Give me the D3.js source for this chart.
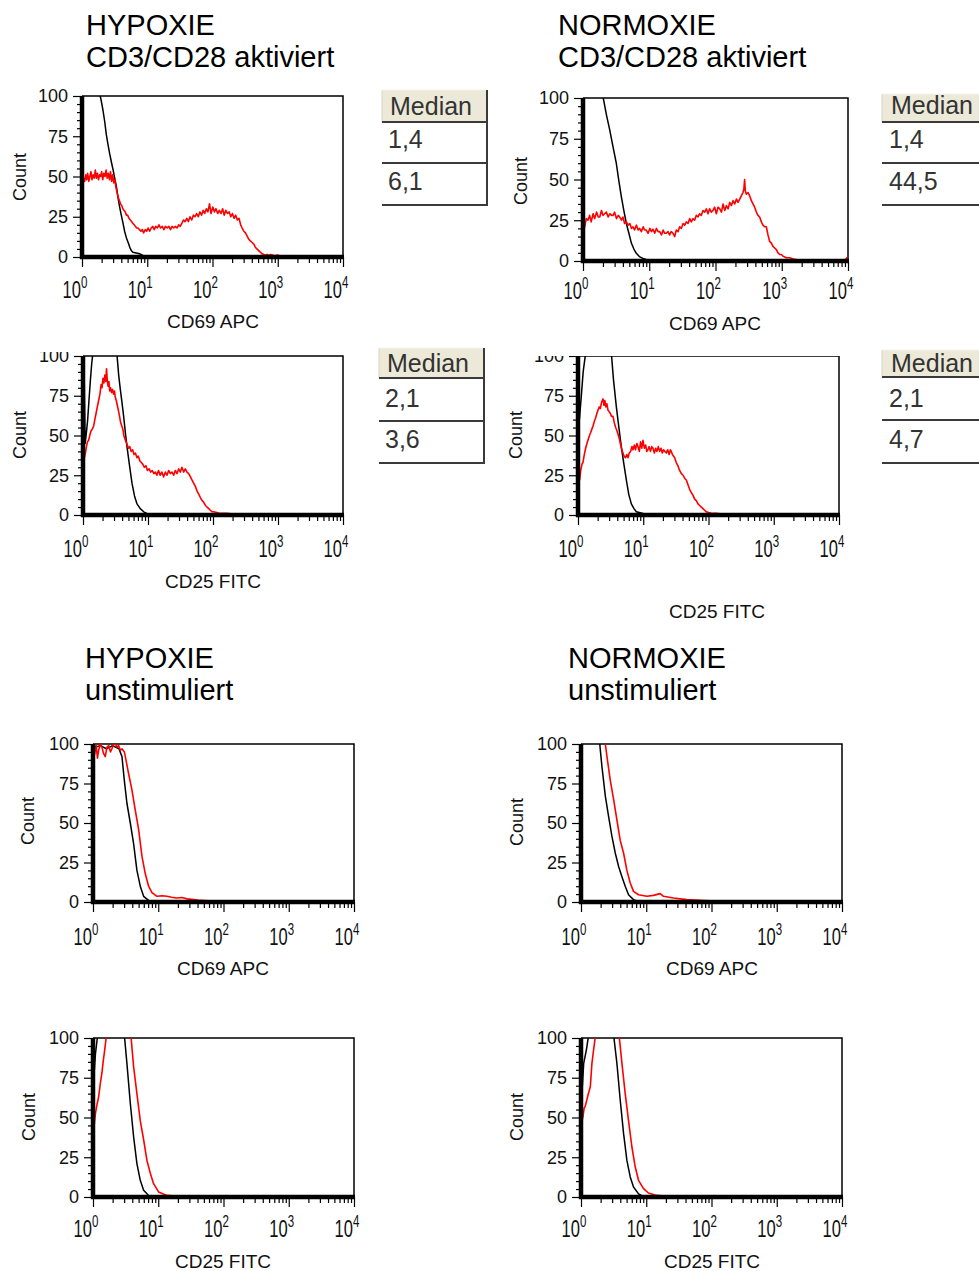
<!DOCTYPE html>
<html><head><meta charset="utf-8">
<script src="https://cdn.jsdelivr.net/npm/d3@7"></script>
<style>
html,body{margin:0;padding:0;background:#fff;}
svg{display:block;font-family:"Liberation Sans",Arial,sans-serif;}
</style></head><body>
<svg id="chart" width="979" height="1271"></svg>
<script>
// ---------------- DATA ----------------
const xTickValues = [1, 10, 100, 1000, 10000];
const xTickBase = "10";
const xTickExponents = ["0", "1", "2", "3", "4"];
const yTickValues = [0, 25, 50, 75, 100];
const yMinorTickValues = [5, 10, 15, 20, 30, 35, 40, 45, 55, 60, 65, 70, 80, 85, 90, 95];
const yAxisTitle = "Count";
const groupTitles = ["HYPOXIE", "NORMOXIE", "HYPOXIE", "NORMOXIE"];
const groupSubtitles = ["CD3/CD28 aktiviert", "CD3/CD28 aktiviert", "unstimuliert", "unstimuliert"];
const markerLabels = ["CD69 APC", "CD69 APC", "CD25 FITC", "CD25 FITC", "CD69 APC", "CD69 APC", "CD25 FITC", "CD25 FITC"];
const medianHeader = "Median";
const medianHypAktCD69 = ["1,4", "6,1"];
const medianNormAktCD69 = ["1,4", "44,5"];
const medianHypAktCD25 = ["2,1", "3,6"];
const medianNormAktCD25 = ["2,1", "4,7"];

// [fluorescence intensity, count]
const hypAktCD69Black = [[1,200],[1.6,140],[1.87,101],[1.95,98],[2.1,91],[2.23,84],[2.36,76],[2.5,70],[2.66,64],[2.82,59],[3,54],[3.17,49],[3.36,44],[3.56,37],[3.78,31],[4,26],[4.25,21],[4.5,16],[4.78,12],[5.1,9],[5.4,6],[5.7,4],[6,3],[6.8,2.5],[7.6,2],[8.6,1],[9.7,0.5],[11,0],[10000,0]];
const hypAktCD69Red = [[1,41],[1.03,44],[1.06,49],[1.1,47],[1.14,51],[1.18,48],[1.22,52],[1.27,47],[1.32,50],[1.37,53],[1.42,48],[1.48,51],[1.54,49],[1.6,54],[1.66,49],[1.72,52],[1.79,48],[1.86,51],[1.93,50],[2,53],[2.08,48],[2.16,52],[2.25,50],[2.34,54],[2.43,49],[2.53,52],[2.63,48],[2.73,53],[2.84,47],[2.95,51],[3.07,46],[3.19,48],[3.32,43],[3.45,40],[3.6,37],[3.75,35],[3.9,33],[4.06,32],[4.23,30],[4.4,29],[4.6,28],[4.8,26],[5,26],[5.25,24],[5.5,23],[5.75,22],[6,21],[6.3,20],[6.6,19],[6.9,18],[7.2,18],[7.6,17],[8,16],[8.4,17],[8.8,15],[9.3,17],[9.8,16],[10.3,18],[10.9,16],[11.5,18],[12.1,19],[12.8,17],[13.5,19],[14.3,18],[15.1,20],[16,18],[17,19],[18,17],[19,19],[20.2,18],[21.4,19],[22.7,17],[24,19],[25.5,18],[27,19],[28.6,18],[30.3,20],[32,19],[34,21],[36,23],[38,22],[40.3,24],[42.7,22],[45.2,25],[48,23],[51,26],[54,25],[57,27],[60.5,25],[64,28],[68,26],[72,29],[76,27],[80.5,30],[85,28],[90,33],[95,27],[101,31],[107,28],[113,30],[120,27],[127,29],[135,27],[143,30],[151,26],[160,29],[170,27],[180,28],[191,25],[202,27],[214,24],[227,26],[240,23],[255,24],[270,20],[285,18],[302,16],[320,15],[340,13],[360,11],[380,10],[405,9],[430,8],[455,6],[480,5],[510,4],[540,3],[575,2],[610,1.5],[650,1.2],[690,1.5],[730,1],[780,1.5],[830,1.2],[900,0.8],[1000,1.2],[1100,0.5],[1300,0.3],[1600,0.5],[2000,0.8],[2400,0.3],[3000,0]];

const normAktCD69Black = [[1,200],[1.8,120],[2,101],[2.25,90],[2.53,80.5],[2.84,70],[3.18,60],[3.48,49],[3.79,39.5],[4.13,31],[4.51,23],[4.93,17],[5.37,11],[5.84,7.5],[6.38,4.7],[7.2,2.5],[8.05,1.6],[9,1],[10.1,0.6],[12,0],[10000,0]];
const normAktCD69Red = [[1,19],[1.06,21],[1.12,26],[1.19,25],[1.26,28],[1.33,24],[1.42,29],[1.5,26],[1.6,30],[1.7,27],[1.79,27],[1.9,31],[2,28],[2.12,29],[2.25,30],[2.4,27],[2.55,29],[2.7,28],[2.84,28],[3,30],[3.2,26],[3.4,28],[3.58,27],[3.8,25],[4,27],[4.25,23],[4.51,24],[4.8,22],[5.1,23],[5.4,20],[5.69,21],[6,19],[6.4,22],[6.8,19],[7.17,20],[7.6,18],[8.1,21],[8.5,19],[9,19],[9.6,17],[10.2,20],[10.8,18],[11.4,19.5],[12.1,17],[12.8,20],[13.6,18],[14.4,18],[15.3,16],[16.2,19],[17.1,17],[18.1,17],[19.2,18],[20.3,16],[21.5,18],[22.8,17],[24.2,15],[25.6,19],[27.2,18],[28.8,21],[30.5,20],[32.4,23],[34.3,22],[36.3,24],[38.5,23],[40.8,26],[43.2,24],[45.7,26],[48.4,25],[51.3,28],[54.4,27],[57.7,29],[61.1,28],[64.8,31],[68.6,30],[72.7,32],[77,29],[81.6,32],[86.5,30],[91.6,31],[97,33],[103,29],[109,33],[116,32],[123,30],[130,35],[138,31],[146,34],[155,32],[164,36],[174,34],[184,37],[195,35],[207,38],[219,36],[232,38],[245,40],[260,42],[268,44],[275,50],[282,43],[292,41],[310,42],[328,40],[348,37],[368,35],[390,33],[414,30],[438,28],[464,27],[492,24],[521,22],[552,21],[585,21],[620,16],[657,12],[697,11],[738,9],[782,8],[829,7],[878,5],[930,4],[986,4],[1045,3],[1107,2.5],[1173,2],[1243,2],[1318,2],[1500,1.2],[1862,0.5],[2500,0.3],[5000,0.3],[9000,0.4],[9600,2],[10000,1]];

const hypAktCD25Black = [[1,150],[1.04,90],[1.08,45],[1.13,52],[1.18,60],[1.24,73],[1.3,85],[1.36,95],[1.43,103],[2,160],[3,140],[3.33,101],[3.54,88],[3.75,79],[4,70],[4.22,62],[4.48,52],[4.75,43],[5.2,31],[5.67,20],[6.2,12],[6.77,7],[7.6,4],[8.58,2],[9.6,1],[10.9,0.6],[13,0],[10000,0]];
const hypAktCD25Red = [[1,22],[1.02,28],[1.05,36],[1.09,39],[1.13,43],[1.17,46],[1.22,47],[1.27,50],[1.33,53],[1.39,54],[1.46,56],[1.52,60],[1.59,64],[1.66,68],[1.74,72],[1.82,76],[1.9,82],[1.96,80],[2.03,86],[2.1,83],[2.17,88],[2.24,84],[2.3,92],[2.36,85],[2.43,81],[2.5,84],[2.58,78],[2.66,80],[2.75,77],[2.85,79],[2.95,76],[3.05,78],[3.14,74],[3.25,72],[3.37,69],[3.5,66],[3.65,62],[3.8,58],[3.95,56],[4.1,54],[4.25,50],[4.4,48],[4.6,46],[4.8,44],[5,42],[5.25,43],[5.5,40],[5.8,41],[6.1,38],[6.4,39],[6.77,36],[7.1,37],[7.5,34],[7.9,33],[8.3,32],[8.8,30],[9.3,31],[9.8,28],[10.4,29],[11,27],[11.6,28],[12.3,26],[13,27],[13.7,25],[14.5,28],[15.4,25],[16.3,27],[17.4,24],[18.5,27],[19.6,25],[20.8,28],[22.1,26],[23.4,27],[24.8,25],[26.3,28],[27.9,26],[29.6,29],[31.4,27],[33.3,30],[35.4,27],[37.5,29],[39.8,27],[42.3,26],[45,24],[47.6,22],[50.4,20],[53.5,18],[57,15],[60.5,13],[64,11],[68,9],[72,8],[76.5,6],[81,5],[86,4],[91,3],[97,2],[102,2],[115,1.5],[130,1],[164,1],[200,0.6],[263,0.5],[400,0.4],[10000,0.4]];

const normAktCD25Black = [[1,150],[1.05,60],[1.12,74],[1.2,90],[1.31,102],[2,150],[3.24,102],[3.5,85],[3.87,68],[4.2,56],[4.61,43],[5.05,32],[5.51,22],[6,13],[6.57,7],[7.2,4],[7.84,2],[9.9,1],[12,0],[10000,0]];
const normAktCD25Red = [[1,18],[1.03,24],[1.06,22],[1.1,28],[1.15,32],[1.19,33],[1.25,38],[1.31,42],[1.37,45],[1.42,47],[1.5,50],[1.57,52],[1.63,54],[1.7,56],[1.78,59],[1.86,61],[1.95,64],[2.03,66],[2.12,68],[2.2,67],[2.3,71],[2.42,73],[2.5,69],[2.58,72],[2.67,68],[2.77,70],[2.88,66],[3,65],[3.12,64],[3.27,62],[3.44,62],[3.6,58],[3.78,55],[3.95,53],[4.1,51],[4.3,48],[4.5,44],[4.7,41],[4.89,39],[5.1,37],[5.35,36],[5.6,38],[5.84,36],[6.1,39],[6.4,40],[6.7,43],[6.96,41],[7.3,44],[7.6,41],[8,45],[8.31,43],[8.7,40],[9.1,46],[9.5,42],[9.9,47],[10.4,42],[10.9,44],[11.3,40],[11.8,41],[12.3,43],[12.9,40],[13.5,43],[14.1,42],[14.8,39],[15.5,42],[16.2,40],[17,43],[17.8,40],[18.7,42],[19.6,39],[20.5,41],[21.5,40],[22.6,39],[23.7,41],[24.9,38],[26.1,41],[26.9,40],[28,38],[29.2,37],[30.3,36],[32,33],[34,31],[36.1,28],[38.4,26],[40.8,25],[43.3,23],[45.7,22],[48.5,19],[51.5,16],[54.6,14],[57.8,12.5],[61.3,10],[65,9],[69,7],[73.2,6],[77.6,5],[82.3,4],[87.3,3],[92.6,2],[100,1.5],[115,1],[132,1],[160,0.6],[200,0.5],[237,0.4],[10000,0.4]];

const hypUnstCD69Black = [[1,100],[1.1,98],[1.3,99],[1.6,97],[2,99],[2.5,97],[2.78,92],[3.02,77],[3.31,62.5],[3.73,50],[4.19,37],[4.71,20],[5.3,10],[5.97,3.6],[7.11,1],[8.49,0],[10000,0]];
const hypUnstCD69Red = [[1,96],[1.05,93],[1.12,99],[1.17,91],[1.22,96],[1.3,100],[1.37,98],[1.45,94],[1.54,92],[1.64,98],[1.74,99],[1.85,95],[1.95,97],[2.07,100],[2.2,100],[2.33,98],[2.47,99],[2.62,96],[2.78,97],[3.02,95],[3.13,92],[3.52,81],[3.95,71],[4.45,58],[5,46],[5.62,29],[6.32,18],[7.11,10],[8,6],[9.55,3.6],[11.5,4],[13.6,3.6],[16,3],[19.3,2.5],[23,2.8],[27.5,2],[35,1.5],[44,1],[60,0.8],[79,0.6],[110,0.5],[142,0.3],[180,0]];

const normUnstCD69Black = [[1,200],[1.93,101],[1.98,96],[2.09,86],[2.36,67],[2.65,54],[2.98,41.5],[3.35,31],[3.77,22.5],[4.24,16],[4.76,10],[5.35,4.6],[6.38,1.5],[8.07,0],[10000,0]];
const normUnstCD69Red = [[1,200],[2.3,101],[2.36,100],[2.5,92],[2.81,77],[3.16,65],[3.55,52],[3.99,39],[4.49,31],[5.05,20],[5.68,12],[6.38,6.7],[7.62,4.6],[10.2,3.6],[12.9,4.2],[16.3,5.3],[18.4,3.6],[26.1,2.5],[41.7,1.5],[66.7,1],[107,0.6],[135,0]];

const hypUnstCD25Black = [[1,150],[1.05,80],[1.09,90],[1.18,102],[2,150],[3.02,102],[3.31,84],[3.73,59],[4.19,38],[4.71,21],[5.3,10.5],[5.97,4.2],[7.11,1],[8.49,0],[10000,0]];
const hypUnstCD25Red = [[1,35],[1.02,42],[1.09,52.6],[1.15,58],[1.22,63],[1.3,72],[1.37,78],[1.43,85],[1.49,90.5],[1.6,101],[2.5,150],[3.82,101],[4.19,82],[4.71,65],[5.3,48],[5.97,36],[6.71,23],[7.55,15],[8.49,8.4],[10.1,3.2],[13.6,1],[19.3,0.4],[44,0.3],[10000,0.3]];

const normUnstCD25Black = [[1,150],[1.05,70],[1.1,84],[1.21,92.6],[1.31,102],[2,150],[3.16,102],[3.55,84],[3.99,61],[4.49,40],[5.05,23],[5.68,12.6],[6.38,6.3],[7.62,2],[9.08,0.4],[10.8,0],[10000,0]];
const normUnstCD25Red = [[1,45],[1.07,50.5],[1.12,56],[1.16,57],[1.21,60],[1.26,63],[1.39,69.5],[1.47,84],[1.56,92.6],[1.66,101],[2.5,150],[3.85,101],[4.24,84],[4.76,65],[5.35,48],[6.02,31.6],[6.77,19],[7.62,10.5],[9.08,5.3],[10.8,2.5],[14.5,1],[20.6,0.4],[41.7,0.3],[10000,0.3]];

// ---------------- LAYOUT ----------------
const panelLayout = [
  {left:82, right:343, top:96, bottom:257, countX:26, countY:177, tickY:298, labX:213, labY:328},
  {left:583, right:848, top:98, bottom:261, countX:527, countY:181, tickY:299, labX:715, labY:330},
  {left:83, right:343, top:356, bottom:515, countX:26, countY:435, tickY:557, labX:213, labY:588, cropTop:352},
  {left:578, right:839, top:356, bottom:515, countX:522, countY:435, tickY:557, labX:717, labY:618, cropTop:356},
  {left:93, right:354, top:744, bottom:902, countX:34, countY:821, tickY:945, labX:223, labY:975},
  {left:581, right:842, top:744, bottom:902, countX:523, countY:822, tickY:945, labX:712, labY:975},
  {left:93, right:354, top:1038, bottom:1197, countX:35, countY:1117, tickY:1237, labX:223, labY:1268},
  {left:581, right:842, top:1038, bottom:1197, countX:523, countY:1117, tickY:1237, labX:712, labY:1268}
];
const panelSeries = [
  [hypAktCD69Black, hypAktCD69Red], [normAktCD69Black, normAktCD69Red],
  [hypAktCD25Black, hypAktCD25Red], [normAktCD25Black, normAktCD25Red],
  [hypUnstCD69Black, hypUnstCD69Red], [normUnstCD69Black, normUnstCD69Red],
  [hypUnstCD25Black, hypUnstCD25Red], [normUnstCD25Black, normUnstCD25Red]
];
const tableLayout = [
  {x0:382, x1:487, top:90, lines:[122,163,205], textX:390, base:[115,148,190], values:medianHypAktCD69},
  {x0:882, x1:995, top:94, lines:[122,163,205], textX:891, base:[114,148,190], values:medianNormAktCD69},
  {x0:379, x1:484, top:348, lines:[378,421,463], textX:387, base:[372,407,448], values:medianHypAktCD25},
  {x0:882, x1:995, top:350, lines:[377,420,463], textX:891, base:[372,407,448], values:medianNormAktCD25}
];
const titleLayout = [{x:86,y1:35,y2:67},{x:558,y1:35,y2:67},{x:85,y1:668,y2:700},{x:568,y1:668,y2:700}];

// ---------------- DRAW ----------------
const svg = d3.select('#chart');
const defs = svg.append('defs');
svg.append('rect').attr('width',979).attr('height',1271).attr('fill','#fff');

titleLayout.forEach((t,i) => {
  svg.append('text').attr('x',t.x).attr('y',t.y1).attr('font-size',29).attr('fill','#000').text(groupTitles[i]);
  svg.append('text').attr('x',t.x).attr('y',t.y2).attr('font-size',29).attr('fill','#000').text(groupSubtitles[i]);
});

panelLayout.forEach((p, i) => {
  const [blackData, redData] = panelSeries[i];
  const x = d3.scaleLog().domain([1, 10000]).range([p.left, p.right]);
  const y = d3.scaleLinear().domain([0, 100]).range([p.bottom, p.top]);

  const clipId = 'plotclip' + i;
  defs.append('clipPath').attr('id', clipId).append('rect')
    .attr('x', p.left).attr('y', p.top).attr('width', p.right - p.left + 1).attr('height', p.bottom - p.top + 1);

  let g = svg.append('g');
  if (p.cropTop) {
    const cid = 'crop' + i;
    defs.append('clipPath').attr('id', cid).append('rect')
      .attr('x', 0).attr('y', p.cropTop).attr('width', 979).attr('height', 1271);
    g.attr('clip-path', `url(#${cid})`);
  }

  g.append('path')
    .attr('d', `M${p.left},${p.top}H${p.right}V${p.bottom}`)
    .attr('fill','none').attr('stroke','#000').attr('stroke-width',1.5);

  const line = d3.line().x(d => x(d[0])).y(d => y(d[1]));
  const curves = g.append('g').attr('clip-path', `url(#${clipId})`);
  curves.append('path').datum(blackData).attr('d', line)
    .attr('fill','none').attr('stroke','#000').attr('stroke-width',1.5).attr('stroke-linejoin','round');
  curves.append('path').datum(redData).attr('d', line)
    .attr('fill','none').attr('stroke','#ff0000').attr('stroke-width',1.6).attr('stroke-linejoin','round');

  const yMinor = g.append('g').attr('transform', `translate(${p.left},0)`)
    .call(d3.axisLeft(y).tickValues(yMinorTickValues).tickSize(5).tickFormat(''));
  yMinor.select('.domain').remove();
  const yMajor = g.append('g').attr('transform', `translate(${p.left},0)`)
    .call(d3.axisLeft(y).tickValues(yTickValues).tickSize(9).tickPadding(5).tickFormat(d3.format('d')));
  yMajor.select('.domain').remove();
  yMajor.selectAll('text').attr('font-size', 18).attr('fill','#111').attr('font-family','"Liberation Sans",Arial,sans-serif');

  const minorX = x.ticks().filter(v => !xTickValues.includes(v));
  const xMinor = g.append('g').attr('transform', `translate(0,${p.bottom})`)
    .call(d3.axisBottom(x).tickValues(minorX).tickSize(6).tickFormat(''));
  xMinor.select('.domain').remove();
  const xMajor = g.append('g').attr('transform', `translate(0,${p.bottom})`)
    .call(d3.axisBottom(x).tickValues(xTickValues).tickSize(10).tickFormat(''));
  xMajor.select('.domain').remove();
  g.selectAll('.tick line').attr('stroke','#000').attr('stroke-width',1.2);

  g.append('line').attr('x1', p.left).attr('x2', p.left).attr('y1', p.top).attr('y2', p.bottom + 2)
    .attr('stroke','#000').attr('stroke-width',4.5);
  g.append('line').attr('x1', p.left - 2).attr('x2', p.right + 1).attr('y1', p.bottom).attr('y2', p.bottom)
    .attr('stroke','#000').attr('stroke-width',4.5);

  // x tick labels 10^k as one text element with raised exponent
  xTickValues.forEach((v, k) => {
    const lg = g.append('g').attr('transform', `translate(${x(v)},${p.tickY}) scale(0.72,1)`);
    const t = lg.append('text').attr('x', -27).attr('font-size',23).attr('fill','#111');
    t.append('tspan').text(xTickBase);
    t.append('tspan').attr('dx', 0).attr('dy', -10).attr('font-size',16).text(xTickExponents[k]);
  });

  g.append('text').attr('transform', `translate(${p.countX},${p.countY}) rotate(-90)`)
    .attr('text-anchor','middle').attr('font-size',18).attr('fill','#111').text(yAxisTitle);
  g.append('text').attr('x', p.labX).attr('y', p.labY).attr('text-anchor','middle')
    .attr('font-size',19).attr('fill','#111').text(markerLabels[i]);
});

tableLayout.forEach(t => {
  const g = svg.append('g');
  g.append('rect').attr('x', t.x0).attr('y', t.top).attr('width', t.x1 - t.x0).attr('height', t.lines[0] - t.top)
    .attr('fill','#ece9d8');
  g.append('line').attr('x1', t.x0).attr('x2', t.x0).attr('y1', t.top).attr('y2', t.lines[0])
    .attr('stroke','#d8d4c4').attr('stroke-width',1);
  g.append('line').attr('x1', t.x0).attr('x2', t.x1).attr('y1', t.top).attr('y2', t.top)
    .attr('stroke','#f4f2ea').attr('stroke-width',1);
  t.lines.forEach(ly => {
    g.append('line').attr('x1', t.x0).attr('x2', t.x1).attr('y1', ly).attr('y2', ly)
      .attr('stroke','#3a3a3a').attr('stroke-width',2);
  });
  g.append('line').attr('x1', t.x1).attr('x2', t.x1).attr('y1', t.top).attr('y2', t.lines[2] + 1)
    .attr('stroke','#3a3a3a').attr('stroke-width',2);
  g.append('text').attr('x', t.textX).attr('y', t.base[0]).attr('font-size',25).attr('fill','#333').text(medianHeader);
  t.values.forEach((v, j) => {
    g.append('text').attr('x', t.textX - 2).attr('y', t.base[j + 1]).attr('font-size',25).attr('fill','#333').text(v);
  });
});
</script>
</body></html>
